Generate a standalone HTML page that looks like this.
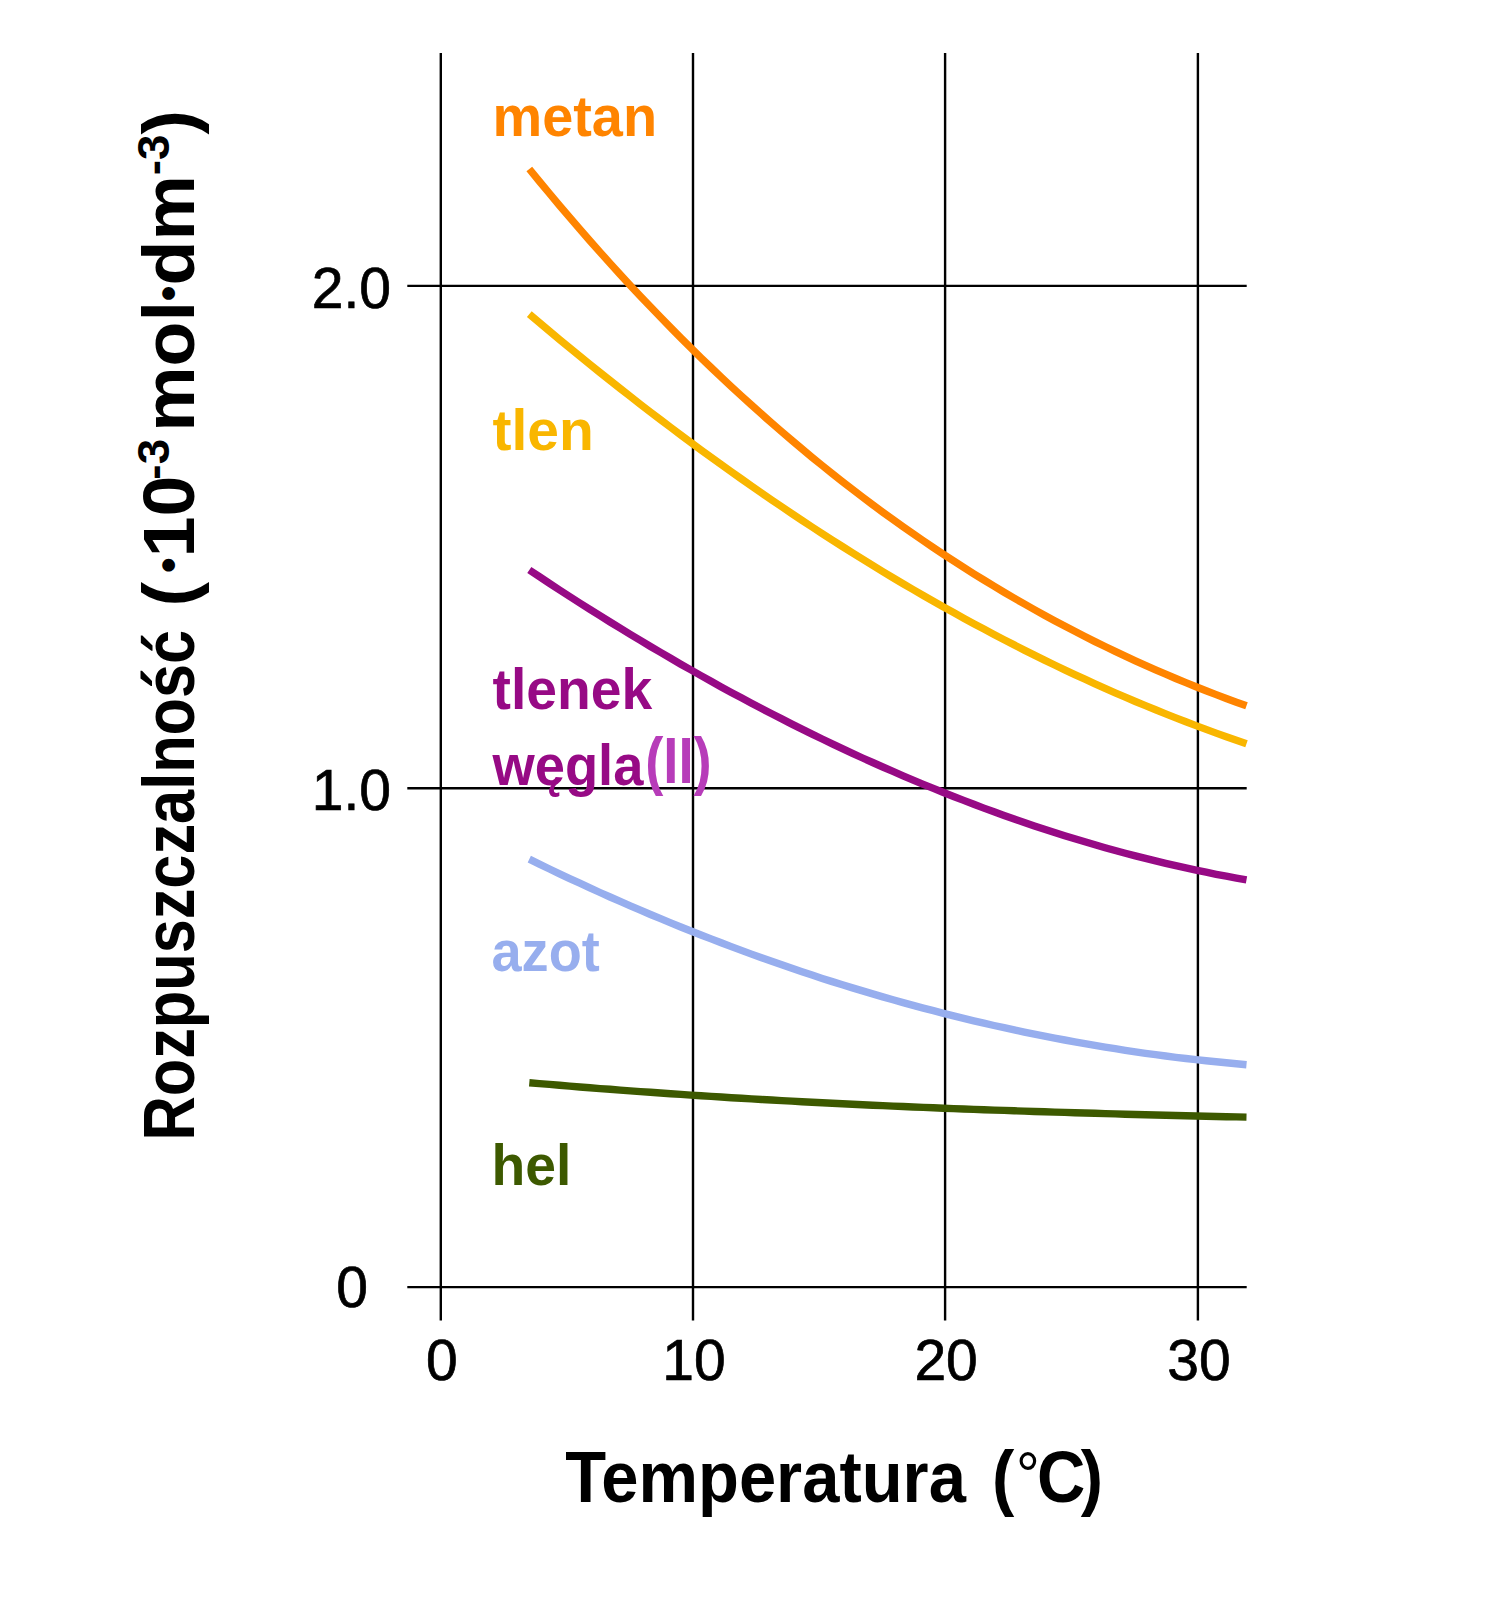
<!DOCTYPE html><html><head><meta charset="utf-8"><style>html,body{margin:0;padding:0;background:#fff;}svg{display:block}</style></head><body><svg width="1486" height="1600" viewBox="0 0 1486 1600">
<rect width="1486" height="1600" fill="#fff"/>
<line x1="440.8" y1="53" x2="440.8" y2="1320.5" stroke="#000" stroke-width="2.4"/>
<line x1="693.0" y1="53" x2="693.0" y2="1320.5" stroke="#000" stroke-width="2.4"/>
<line x1="945.1" y1="53" x2="945.1" y2="1320.5" stroke="#000" stroke-width="2.4"/>
<line x1="1197.9" y1="53" x2="1197.9" y2="1320.5" stroke="#000" stroke-width="2.4"/>
<line x1="407.3" y1="285.9" x2="1246.7" y2="285.9" stroke="#000" stroke-width="2.4"/>
<line x1="407.3" y1="788.2" x2="1246.7" y2="788.2" stroke="#000" stroke-width="2.4"/>
<line x1="407.3" y1="1287.1" x2="1246.7" y2="1287.1" stroke="#000" stroke-width="2.4"/>
<polyline points="529.3,169.0 539.4,181.3 549.5,193.5 559.6,205.6 569.7,217.4 579.8,229.2 589.9,240.7 600.0,252.1 610.1,263.4 620.2,274.5 630.3,285.4 640.4,296.2 650.5,306.8 660.6,317.3 670.7,327.6 680.8,337.8 690.9,347.9 701.0,357.8 711.1,367.5 721.2,377.1 731.3,386.6 741.4,395.9 751.5,405.1 761.6,414.1 771.7,423.0 781.8,431.8 791.9,440.4 802.0,448.9 812.1,457.3 822.2,465.5 832.3,473.6 842.4,481.6 852.5,489.4 862.6,497.1 872.7,504.7 882.8,512.2 893.0,519.5 903.1,526.7 913.2,533.8 923.3,540.7 933.4,547.6 943.5,554.3 953.6,560.9 963.7,567.4 973.8,573.8 983.9,580.0 994.0,586.2 1004.1,592.2 1014.2,598.1 1024.3,603.9 1034.4,609.6 1044.5,615.2 1054.6,620.7 1064.7,626.1 1074.8,631.3 1084.9,636.5 1095.0,641.6 1105.1,646.5 1115.2,651.4 1125.3,656.1 1135.4,660.8 1145.5,665.3 1155.6,669.8 1165.7,674.2 1175.8,678.5 1185.9,682.6 1196.0,686.7 1206.1,690.7 1216.2,694.6 1226.3,698.5 1236.4,702.2 1246.5,705.8" fill="none" stroke="#FF8400" stroke-width="7.4" stroke-linecap="butt" stroke-linejoin="round"/>
<polyline points="529.3,314.2 539.4,322.7 549.5,331.2 559.6,339.6 569.7,347.9 579.8,356.2 589.9,364.4 600.0,372.5 610.1,380.5 620.2,388.5 630.3,396.4 640.4,404.3 650.5,412.1 660.6,419.8 670.7,427.4 680.8,435.0 690.9,442.5 701.0,449.9 711.1,457.3 721.2,464.6 731.3,471.8 741.4,478.9 751.5,486.0 761.6,493.0 771.7,500.0 781.8,506.8 791.9,513.6 802.0,520.4 812.1,527.0 822.2,533.6 832.3,540.1 842.4,546.5 852.5,552.9 862.6,559.2 872.7,565.4 882.8,571.6 893.0,577.7 903.1,583.7 913.2,589.6 923.3,595.5 933.4,601.3 943.5,607.0 953.6,612.6 963.7,618.2 973.8,623.7 983.9,629.1 994.0,634.5 1004.1,639.7 1014.2,644.9 1024.3,650.1 1034.4,655.1 1044.5,660.1 1054.6,665.0 1064.7,669.8 1074.8,674.6 1084.9,679.2 1095.0,683.8 1105.1,688.4 1115.2,692.8 1125.3,697.2 1135.4,701.5 1145.5,705.7 1155.6,709.8 1165.7,713.9 1175.8,717.9 1185.9,721.8 1196.0,725.6 1206.1,729.4 1216.2,733.1 1226.3,736.7 1236.4,740.2 1246.5,743.7" fill="none" stroke="#F9B600" stroke-width="7.4" stroke-linecap="butt" stroke-linejoin="round"/>
<polyline points="529.3,570.0 539.4,576.7 549.5,583.4 559.6,590.0 569.7,596.5 579.8,603.0 589.9,609.4 600.0,615.7 610.1,622.0 620.2,628.2 630.3,634.3 640.4,640.4 650.5,646.5 660.6,652.4 670.7,658.3 680.8,664.2 690.9,669.9 701.0,675.6 711.1,681.3 721.2,686.9 731.3,692.4 741.4,697.8 751.5,703.2 761.6,708.5 771.7,713.8 781.8,718.9 791.9,724.1 802.0,729.1 812.1,734.1 822.2,739.0 832.3,743.8 842.4,748.6 852.5,753.3 862.6,758.0 872.7,762.5 882.8,767.0 893.0,771.4 903.1,775.8 913.2,780.1 923.3,784.3 933.4,788.4 943.5,792.5 953.6,796.5 963.7,800.4 973.8,804.3 983.9,808.1 994.0,811.8 1004.1,815.4 1014.2,819.0 1024.3,822.5 1034.4,825.9 1044.5,829.2 1054.6,832.5 1064.7,835.7 1074.8,838.8 1084.9,841.8 1095.0,844.8 1105.1,847.7 1115.2,850.5 1125.3,853.2 1135.4,855.9 1145.5,858.4 1155.6,860.9 1165.7,863.3 1175.8,865.7 1185.9,867.9 1196.0,870.1 1206.1,872.2 1216.2,874.3 1226.3,876.2 1236.4,878.1 1246.5,879.9" fill="none" stroke="#970A85" stroke-width="7.4" stroke-linecap="butt" stroke-linejoin="round"/>
<polyline points="529.3,859.2 539.4,864.1 549.5,869.0 559.6,873.8 569.7,878.6 579.8,883.2 589.9,887.9 600.0,892.5 610.1,897.0 620.2,901.4 630.3,905.8 640.4,910.2 650.5,914.5 660.6,918.7 670.7,922.9 680.8,927.0 690.9,931.0 701.0,935.0 711.1,938.9 721.2,942.8 731.3,946.6 741.4,950.4 751.5,954.1 761.6,957.7 771.7,961.3 781.8,964.8 791.9,968.3 802.0,971.7 812.1,975.1 822.2,978.4 832.3,981.6 842.4,984.8 852.5,987.9 862.6,990.9 872.7,993.9 882.8,996.9 893.0,999.8 903.1,1002.6 913.2,1005.4 923.3,1008.1 933.4,1010.7 943.5,1013.3 953.6,1015.9 963.7,1018.4 973.8,1020.8 983.9,1023.2 994.0,1025.5 1004.1,1027.7 1014.2,1029.9 1024.3,1032.1 1034.4,1034.1 1044.5,1036.2 1054.6,1038.1 1064.7,1040.0 1074.8,1041.9 1084.9,1043.7 1095.0,1045.4 1105.1,1047.1 1115.2,1048.7 1125.3,1050.3 1135.4,1051.8 1145.5,1053.3 1155.6,1054.7 1165.7,1056.0 1175.8,1057.3 1185.9,1058.5 1196.0,1059.7 1206.1,1060.8 1216.2,1061.8 1226.3,1062.8 1236.4,1063.8 1246.5,1064.7" fill="none" stroke="#97AEEE" stroke-width="7.4" stroke-linecap="butt" stroke-linejoin="round"/>
<polyline points="529.3,1082.7 539.4,1083.6 549.5,1084.4 559.6,1085.3 569.7,1086.1 579.8,1087.0 589.9,1087.8 600.0,1088.6 610.1,1089.3 620.2,1090.1 630.3,1090.9 640.4,1091.6 650.5,1092.3 660.6,1093.0 670.7,1093.7 680.8,1094.4 690.9,1095.1 701.0,1095.8 711.1,1096.4 721.2,1097.0 731.3,1097.7 741.4,1098.3 751.5,1098.9 761.6,1099.5 771.7,1100.0 781.8,1100.6 791.9,1101.1 802.0,1101.7 812.1,1102.2 822.2,1102.7 832.3,1103.2 842.4,1103.7 852.5,1104.2 862.6,1104.7 872.7,1105.2 882.8,1105.6 893.0,1106.1 903.1,1106.5 913.2,1107.0 923.3,1107.4 933.4,1107.8 943.5,1108.2 953.6,1108.6 963.7,1109.0 973.8,1109.4 983.9,1109.7 994.0,1110.1 1004.1,1110.4 1014.2,1110.8 1024.3,1111.1 1034.4,1111.5 1044.5,1111.8 1054.6,1112.1 1064.7,1112.4 1074.8,1112.7 1084.9,1113.0 1095.0,1113.3 1105.1,1113.6 1115.2,1113.9 1125.3,1114.2 1135.4,1114.5 1145.5,1114.7 1155.6,1115.0 1165.7,1115.2 1175.8,1115.5 1185.9,1115.7 1196.0,1116.0 1206.1,1116.2 1216.2,1116.5 1226.3,1116.7 1236.4,1116.9 1246.5,1117.1" fill="none" stroke="#3D5900" stroke-width="7.4" stroke-linecap="butt" stroke-linejoin="round"/>
<g font-family="'Liberation Sans', sans-serif" font-size="57" fill="#000" stroke="#000" stroke-width="0.7">
<text x="391" y="307.5" text-anchor="end">2.0</text>
<text x="391" y="809.5" text-anchor="end">1.0</text>
<text x="352" y="1306.5" text-anchor="middle">0</text>
<text x="441.8" y="1379.5" text-anchor="middle">0</text>
<text x="694.0" y="1379.5" text-anchor="middle">10</text>
<text x="946.1" y="1379.5" text-anchor="middle">20</text>
<text x="1198.9" y="1379.5" text-anchor="middle">30</text>
</g>
<g font-family="'Liberation Sans', sans-serif" font-size="57" font-weight="bold">
<text transform="translate(492.5,136.4) scale(0.98,1)" fill="#FF8400">metan</text>
<text transform="translate(492.5,450.4) scale(1.0,1)" fill="#F9B600">tlen</text>
<text transform="translate(492.5,709) scale(0.97,1)" fill="#970A85">tlenek</text>
<text transform="translate(492.5,784.6) scale(0.953,1)" fill="#970A85">węgla</text>
<text transform="translate(645.2,782.5) scale(0.85,1)" fill="#B73CB9" font-size="64">(II)</text>
<text transform="translate(491.5,970.9) scale(0.95,1)" fill="#97AEEE">azot</text>
<text transform="translate(491.5,1185.1) scale(0.97,1)" fill="#3D5900">hel</text>
</g>
<text font-family="'Liberation Sans', sans-serif" font-size="72" font-weight="bold" transform="translate(565.3,1501.5) scale(0.93,1)">Temperatura <tspan dx="8">(</tspan><tspan font-weight="normal" font-size="64" dy="-5" dx="2">°</tspan><tspan dy="5" dx="-3">C</tspan><tspan dx="-5">)</tspan></text>
<text font-family="'Liberation Sans', sans-serif" font-size="72" font-weight="bold" transform="translate(194,1140.5) rotate(-90) scale(0.851,1)">Rozpuszczalność</text>
<text font-family="'Liberation Sans', sans-serif" font-size="72" font-weight="bold" transform="translate(194,110) rotate(-90) scale(1.02,1)" text-anchor="end">(<tspan font-size="44" dy="-11" dx="9">•</tspan><tspan dy="11">10</tspan><tspan dy="-25" dx="-4" font-size="45">-3</tspan><tspan dy="25" dx="7">mol</tspan><tspan font-size="44" dy="-11">•</tspan><tspan dy="11">dm</tspan><tspan dy="-25" font-size="45">-3</tspan><tspan dy="25">)</tspan></text>
</svg></body></html>
